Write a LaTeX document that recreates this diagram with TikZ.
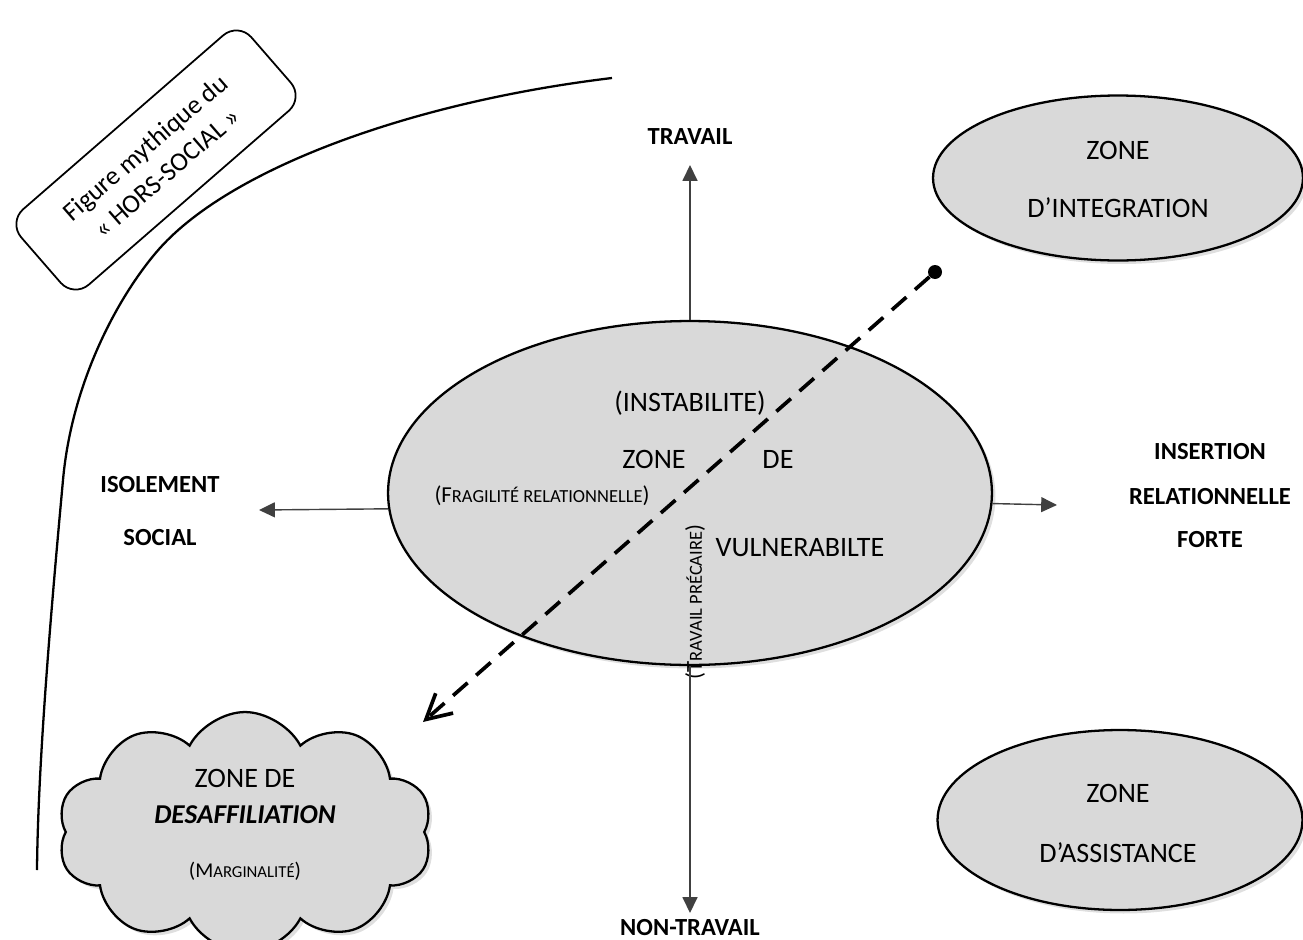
\documentclass[tikz,border=0pt]{standalone}
\usepackage{fontspec}
\setmainfont{Carlito}
\usepackage{tikz}
\usetikzlibrary{
    arrows.meta,
    shapes,
    shapes.symbols,
    shadows,
    positioning
}
\definecolor{zonegray}{HTML}{D9D9D9}
\definecolor{axisgray}{HTML}{404040}
\newcommand{\petitcap}[1]{{\fontsize{10.5}{12}\selectfont #1}}
\newcommand{\minicap}[1]{{\fontsize{9.5}{11}\selectfont #1}}

\tikzset{
    zone/.style={draw, line width=1.3pt, fill=zonegray, inner sep=0pt,
        drop shadow={shadow xshift=2pt, shadow yshift=-2pt, opacity=.25}},
    zonetext/.style={font=\fontsize{16}{19}\selectfont},
    notetext/.style={font=\fontsize{13}{15}\selectfont},
    axislabel/.style={font=\bfseries\fontsize{14}{16}\selectfont},
    axis/.style={draw=axisgray, line width=0.8pt, -{Triangle[length=9pt,width=8.5pt]}},
    passage/.style={line width=2.1pt, dash pattern=on 11pt off 6.5pt,
        -{Straight Barb[length=14pt,width=15pt]}}
}

\begin{document}
\begin{tikzpicture}[x=0.02cm, y=-0.02cm]
    \useasboundingbox (0,0) rectangle (1303,940);

    \draw[line width=1.3pt] (612,78) .. controls (412,102) and (232,168) .. (160,248)
        .. controls (120,293) and (72,380) .. (63,480)
        .. controls (52,600) and (38,760) .. (37,870);
    \node[draw, line width=1pt, rounded corners=0.4cm, rotate=41, minimum width=6.1cm,
        minimum height=2cm, align=center, font=\fontsize{15}{19}\selectfont]
        (horsbox) at (156,160) {Figure mythique du\\« HORS-SOCIAL »};

    \node[zone, ellipse, minimum width=12.08cm, minimum height=6.88cm] (vuln) at (690,493) {};
    \node[zone, ellipse, minimum width=7.4cm, minimum height=3.3cm] (integ) at (1118,178) {};
    \node[zone, ellipse, minimum width=7.3cm, minimum height=3.6cm] (assist) at (1120,820) {};
    \node[zone, cloud, cloud puffs=10, cloud puff arc=125, aspect=1.6,
        minimum width=7.5cm, minimum height=4.8cm] (desaff) at (245,832) {};

    \node[zonetext] (instab) at (690,403) {(INSTABILITE)};
    \node[zonetext] (zonev) at (654,459) {ZONE};
    \node[zonetext] (dev) at (778,459) {DE};
    \node[zonetext] (vulntxt) at (800,548) {VULNERABILTE};
    \node[notetext] (fragil) at (542,496) {(F\petitcap{RAGILITÉ RELATIONNELLE})};
    \node[notetext, rotate=90] (precaire) at (695,602) {(T\petitcap{RAVAIL PRÉCAIRE})};

    \node[zonetext] (zonei) at (1118,150) {ZONE};
    \node[zonetext] (integtxt) at (1118,208) {D’INTEGRATION};
    \node[zonetext] (zonea) at (1118,793) {ZONE};
    \node[zonetext] (assisttxt) at (1118,853) {D’ASSISTANCE};

    \node[zonetext] (zoned) at (245,778) {ZONE DE};
    \node[font=\bfseries\itshape\fontsize{15.5}{18}\selectfont] (desafftxt) at (245,815) {DESAFFILIATION};
    \node[font=\fontsize{12}{14}\selectfont] (marg) at (245,871) {(M\minicap{ARGINALITÉ})};

    \node[axislabel] (travail) at (690,137) {TRAVAIL};
    \node[axislabel] (nontravail) at (690,928) {NON-TRAVAIL};
    \node[axislabel] (isolement) at (160,485) {ISOLEMENT};
    \node[axislabel] (social) at (160,538) {SOCIAL};
    \node[axislabel] (insertion) at (1210,452) {INSERTION};
    \node[axislabel] (relation) at (1210,497) {RELATIONNELLE};
    \node[axislabel] (forte) at (1210,540) {FORTE};

    \coordinate (haut) at (690,165);
    \coordinate (bas) at (690,913);
    \coordinate (gauche) at (259,510);
    \coordinate (droite) at (1057,505);
    \draw[axis] (vuln.north) -- (haut);
    \draw[axis] (vuln.south) -- (bas);
    \draw[axis] (vuln.183.2) -- (gauche);
    \draw[axis] (vuln.-2.3) -- (droite);

    \node[circle, fill, inner sep=0pt, minimum size=0.28cm] (depart) at (935,272) {};
    \coordinate (arrivee) at (423,722);
    \draw[passage] (depart) -- (arrivee);
\end{tikzpicture}
\end{document}
